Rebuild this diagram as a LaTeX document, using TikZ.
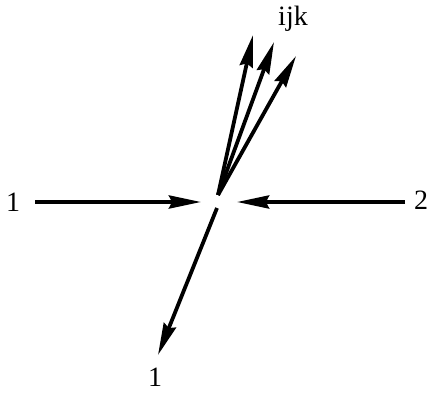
\documentclass[tikz,border=0pt]{standalone}
\usepackage{fontspec}
\setmainfont{Liberation Serif}
\usetikzlibrary{arrows.meta}
\tikzset{
  leg/.style={line width=3.8pt, -{Stealth[length=32pt,width=13pt,inset=3pt]}},
  lbl/.style={font=\fontsize{28}{33}\selectfont, inner sep=0pt}
}
\begin{document}
\begin{tikzpicture}[x=1pt,y=-1pt]
  \useasboundingbox (0,0) rectangle (431,393);
  % labels
  \node[lbl] (in1) at (13,202) {1};
  \node[lbl] (in2) at (421,200) {2};
  \node[lbl] (ijk) at (293,19) {ijk};
  \node[lbl] (out1) at (155,377) {1};
  % end points
  \coordinate (a1) at (35,202);
  \coordinate (a1tip) at (201,202);
  \coordinate (a2) at (405,202);
  \coordinate (a2tip) at (237,202);
  \coordinate (vtop) at (218,195);
  \coordinate (k1) at (253,35);
  \coordinate (k2) at (274,42);
  \coordinate (k3) at (296,56);
  \coordinate (vbot) at (217,208);
  \coordinate (b1) at (158,355);
  % incoming
  \draw[leg] (a1) -- (a1tip);
  \draw[leg] (a2) -- (a2tip);
  % outgoing
  \foreach \k in {k1,k2,k3}
    \draw[leg] (vtop) -- (\k);
  \draw[leg] (vbot) -- (b1);
\end{tikzpicture}
\end{document}
